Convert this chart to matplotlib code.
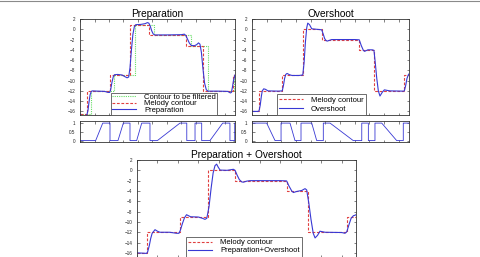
import matplotlib
matplotlib.use("Agg")
import matplotlib.pyplot as plt
from matplotlib.lines import Line2D

plt.rcParams["font.family"] = ["Liberation Sans", "DejaVu Sans"]

# time axis in seconds, pitch in semitones
t_end = 10.7

# --- Preparation panel (values as read against its own ticks)
prep_melody_steps = [0.48, 2.09, 3.47, 4.76, 7.34, 8.49, 10.56]
prep_melody_levels = [-16.6, -12.05, -8.85, 0.9, -1.1, -3.2, -12.05, -8.85]
filt_steps = [0.78, 2.35, 3.82, 5.11, 7.68, 8.84, 10.66]

prep_t = [0.00, 0.12, 0.25, 0.38, 0.48, 0.55, 0.62, 0.70, 0.78, 0.85, 1.20, 1.70,
          1.93, 2.05, 2.12, 2.20, 2.30, 2.38, 2.60, 2.90, 3.08, 3.25, 3.36, 3.45,
          3.55, 3.65, 3.75, 3.85, 4.20, 4.50, 4.65, 4.75, 4.85, 4.95, 5.05, 5.15,
          6.00, 7.00, 7.20, 7.30, 7.42, 7.55, 7.68, 7.90, 8.05, 8.18, 8.28, 8.38,
          8.48, 8.60, 8.72, 8.84, 9.50, 10.20, 10.38, 10.45, 10.52, 10.60, 10.70]
prep_y = [-16.6, -16.8, -16.9, -16.85, -16.6, -15.8, -14.2, -12.7, -12.1, -12.0, -12.05, -12.1,
          -12.3, -12.3, -11.7, -10.4, -9.2, -8.85, -8.8, -8.9, -9.2, -9.45, -9.3, -7.5,
          -4.0, -1.0, 0.5, 0.9, 0.95, 1.1, 1.3, 1.2, 0.6, -0.3, -0.9, -1.1,
          -1.1, -1.05, -0.95, -1.2, -1.9, -2.7, -3.15, -3.2, -3.0, -2.65, -2.9, -4.5,
          -7.5, -10.5, -11.8, -12.05, -12.05, -12.1, -12.4, -12.3, -11.3, -9.9, -8.9]

prep_w_t = [0.0, 1.08, 1.57, 2.07, 2.07, 2.62, 2.99, 3.45, 3.45, 3.91, 4.26, 4.83, 4.83,
            5.34, 6.90, 7.37, 7.37, 7.94, 7.94, 8.40, 8.40, 8.97, 9.85, 10.35, 10.35, 10.68, 10.68, 10.7]
prep_w = [0, 0, 1, 1, 0, 0, 1, 1, 0, 0, 1, 1, 0,
          0, 1, 1, 0, 0, 1, 1, 0, 0, 1, 1, 0, 0, 1, 1]

# --- Overshoot panel
over_melody_steps = [0.48, 2.06, 3.46, 4.75, 7.31, 8.31, 10.38]
melody_levels = [-16, -12, -9, 0, -2, -4, -12, -9]

over_t = [0.00, 0.40, 0.48, 0.56, 0.64, 0.70, 0.80, 0.92, 1.09, 1.80, 2.06, 2.14,
          2.22, 2.30, 2.39, 2.55, 2.73, 3.20, 3.46, 3.55, 3.64, 3.73, 3.80, 3.92,
          4.07, 4.40, 4.75, 4.85, 4.95, 5.04, 5.13, 5.28, 5.43, 7.00, 7.31, 7.45,
          7.59, 7.67, 7.90, 8.20, 8.31, 8.40, 8.50, 8.61, 8.72, 8.87, 9.02, 9.20,
          9.40, 10.30, 10.38, 10.47, 10.56, 10.65, 10.70]
over_y = [-16.0, -16.0, -15.9, -14.8, -13.0, -12.0, -11.6, -11.7, -12.0, -12.05, -12.0, -11.0,
          -9.6, -8.8, -8.6, -8.85, -9.0, -9.0, -8.9, -6.5, -2.5, 0.3, 1.2, 0.9,
          0.1, 0.0, -0.1, -0.9, -1.8, -2.2, -2.3, -2.15, -2.0, -2.0, -2.05, -3.2,
          -4.1, -4.3, -4.0, -4.0, -4.1, -6.5, -9.5, -12.0, -13.0, -12.3, -11.8, -11.9,
          -12.0, -12.05, -12.0, -11.0, -9.6, -8.9, -8.7]

over_w_t = [0.0, 1.00, 1.57, 1.98, 1.98, 2.59, 2.93, 3.34, 3.34, 4.07, 4.41, 4.86, 4.86,
            5.32, 6.90, 7.48, 7.48, 7.93, 7.93, 8.38, 8.38, 8.84, 9.86, 10.31, 10.31, 10.7]
over_w = [1, 1, 0, 0, 1, 1, 0, 0, 1, 1, 0, 0, 1,
          1, 0, 0, 1, 1, 0, 0, 1, 1, 0, 0, 1, 1]

# --- Preparation + Overshoot panel
both_melody_steps = [0.47, 2.10, 3.48, 4.79, 7.31, 8.37, 10.28]

both_t = [0.00, 0.30, 0.47, 0.52, 0.60, 0.67, 0.74, 0.88, 1.00, 1.12, 1.60, 1.93,
          2.05, 2.12, 2.22, 2.32, 2.42, 2.52, 2.62, 3.00, 3.20, 3.32, 3.41, 3.52,
          3.62, 3.72, 3.81, 3.89, 3.97, 4.06, 4.40, 4.71, 4.79, 4.90, 5.00, 5.12,
          5.20, 5.35, 5.52, 7.00, 7.31, 7.42, 7.56, 7.64, 7.80, 8.05, 8.21, 8.29,
          8.40, 8.50, 8.61, 8.70, 8.82, 8.94, 9.19, 10.00, 10.16, 10.25, 10.35, 10.46,
          10.57, 10.65, 10.70]
both_y = [-16.0, -16.05, -16.1, -15.8, -14.6, -13.2, -12.2, -11.5, -11.8, -12.0, -12.0, -12.2,
          -12.2, -11.6, -10.3, -9.2, -8.6, -8.8, -9.0, -9.05, -9.3, -9.5, -9.3, -7.0,
          -3.5, -0.5, 0.9, 1.2, 0.6, 0.05, 0.0, 0.2, 0.0, -1.0, -1.8, -2.25,
          -2.3, -2.1, -2.0, -2.0, -2.05, -3.0, -4.0, -4.3, -4.1, -3.9, -3.55, -3.8,
          -6.5, -9.5, -12.2, -13.1, -12.6, -11.8, -12.0, -12.05, -12.2, -11.9, -10.6, -9.3,
          -8.8, -8.7, -8.6]

y_ticks = list(range(-16, 3, 2))
w_ticks = [0, 0.5, 1]

BLUE = "#3838d4"
RED = "#e04040"
GREEN = "#66dd66"
FS_TICK = 3.3
FS_LEG = 5.5


def step_xy(steps, levels):
    return [0.0] + steps + [t_end], levels + [levels[-1]]


def style_axes(ax, ylim, yticks):
    ax.set_xlim(0, t_end)
    ax.set_ylim(*ylim)
    ax.set_yticks(yticks)
    ax.set_xticks(range(0, 11))
    ax.set_xticklabels([])
    ax.tick_params(direction="in", length=1.8, width=0.4, top=True, right=True,
                   labelsize=FS_TICK, pad=3.2, colors="#222")
    for s in ax.spines.values():
        s.set_linewidth(0.6)
        s.set_color("#333")


def add_legend(ax, x0, spacing, pad):
    leg = ax.legend(loc="lower left", bbox_to_anchor=(x0, 0.0), borderaxespad=0,
                    fontsize=FS_LEG, fancybox=False, framealpha=1, edgecolor="#555",
                    handlelength=3.1, handletextpad=1.1, borderpad=pad,
                    labelspacing=spacing)
    leg.get_frame().set_linewidth(0.6)


fig = plt.figure(figsize=(4.8, 2.57), dpi=100)
fig.add_artist(Line2D([0, 1], [0.995, 0.995], color="#8a8a8a", linewidth=0.8))

main_ylim = (-16.7, 2.0)
w_ylim = (-0.08, 1.12)

# Preparation
ax1 = fig.add_axes([0.1667, 0.5525, 0.3229, 0.3735])
x, y = step_xy(filt_steps, prep_melody_levels)
ax1.step(x, y, where="post", color=GREEN, linestyle=(0, (1, 1)), linewidth=0.8,
         label="Contour to be filtered")
x, y = step_xy(prep_melody_steps, prep_melody_levels)
ax1.step(x, y, where="post", color=RED, linestyle=(0, (2.5, 1.5)), linewidth=0.8,
         label="Melody contour")
ax1.plot(prep_t, prep_y, color=BLUE, linewidth=0.8, label="Preparation")
style_axes(ax1, main_ylim, y_ticks)
ax1.set_title("Preparation", fontsize=7.3, pad=1.5)
add_legend(ax1, 0.2, -0.12, 0.15)

ax1w = fig.add_axes([0.1667, 0.4475, 0.3229, 0.0817])
ax1w.plot(prep_w_t, prep_w, color=BLUE, linewidth=0.6)
style_axes(ax1w, w_ylim, w_ticks)
ax1w.set_yticklabels(["0", "0.5", "1"])

# Overshoot
ax2 = fig.add_axes([0.525, 0.5525, 0.3271, 0.3735])
x, y = step_xy(over_melody_steps, melody_levels)
ax2.step(x, y, where="post", color=RED, linestyle=(0, (2.5, 1.5)), linewidth=0.8,
         label="Melody contour")
ax2.plot(over_t, over_y, color=BLUE, linewidth=0.8, label="Overshoot")
style_axes(ax2, main_ylim, y_ticks)
ax2.set_title("Overshoot", fontsize=7.3, pad=1.5)
add_legend(ax2, 0.157, 0.2, 0.3)

ax2w = fig.add_axes([0.525, 0.4475, 0.3271, 0.0817])
ax2w.plot(over_w_t, over_w, color=BLUE, linewidth=0.6)
style_axes(ax2w, w_ylim, w_ticks)
ax2w.set_yticklabels(["0", "0.5", "1"])

# Preparation + Overshoot
ax3 = fig.add_axes([0.2854, 0.0019, 0.4563, 0.3755])
x, y = step_xy(both_melody_steps, melody_levels)
ax3.step(x, y, where="post", color=RED, linestyle=(0, (2.5, 1.5)), linewidth=0.8,
         label="Melody contour")
ax3.plot(both_t, both_y, color=BLUE, linewidth=0.8, label="Preparation+Overshoot")
style_axes(ax3, main_ylim, y_ticks)
ax3.set_title("Preparation + Overshoot", fontsize=7.3, pad=1.5)
add_legend(ax3, 0.224, 0.05, 0.3)

fig.savefig("out.png", dpi=100)
